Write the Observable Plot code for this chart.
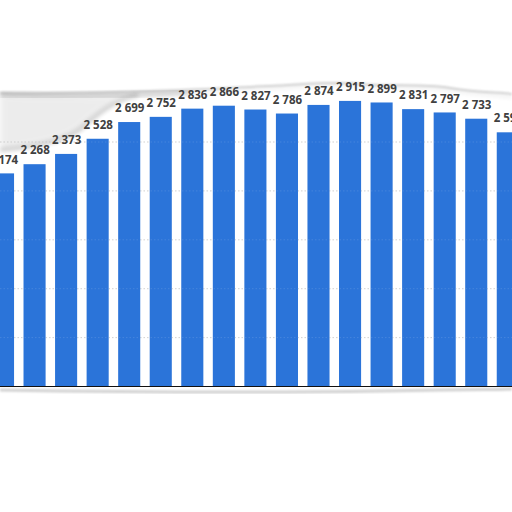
<!DOCTYPE html>
<html>
<head>
<meta charset="utf-8">
<script src="https://cdn.jsdelivr.net/npm/d3@7"></script>
<script src="https://cdn.jsdelivr.net/npm/@observablehq/plot@0.6"></script>
<style>
  html, body { margin: 0; padding: 0; background: #fff; overflow: hidden; width: 512px; height: 512px; }
  #chart { position: relative; width: 512px; height: 512px; }
  #chart > svg { position: absolute; left: 0; top: 0; }
  #tear { z-index: 0; pointer-events: none; }
  #chart > svg.plot-main { z-index: 1; }
</style>
</head>
<body>
<div id="chart">
  <!-- decorative torn-paper shading (not data) -->
  <svg id="tear" width="512" height="512" viewBox="0 0 512 512">
    <defs>
      <filter id="b3" x="-20%" y="-50%" width="140%" height="200%"><feGaussianBlur stdDeviation="3"/></filter>
      <filter id="b2" x="-20%" y="-50%" width="140%" height="200%"><feGaussianBlur stdDeviation="2"/></filter>
      <filter id="b1" x="-20%" y="-50%" width="140%" height="200%"><feGaussianBlur stdDeviation="1"/></filter>
    </defs>
    <path d="M0,94 C40,95 90,96 132,95 C115,100 100,112 85,125 C70,140 40,146 0,150 Z" fill="#000" opacity="0.07" filter="url(#b3)"/>
    <path d="M0,150 C40,146 70,140 85,125 C100,112 115,100 138,95" fill="none" stroke="#000" stroke-width="4" opacity="0.16" filter="url(#b2)"/>
    <path d="M0,95 C40,96 80,96 120,95 S 170,93 190,92" fill="none" stroke="#000" stroke-width="6" opacity="0.12" filter="url(#b2)"/>
    <path d="M0,93 C60,94 120,92 180,90 S 240,87 270,86 S 330,81 360,84 S 420,83 450,88 S 500,92 512,94" fill="none" stroke="#000" stroke-width="2" opacity="0.16" filter="url(#b1)"/>
    <path d="M0,95 C60,97 120,95 180,93 S 240,89 270,88 S 330,83 360,86 S 420,85 450,90 S 500,94 512,97" fill="none" stroke="#000" stroke-width="4" opacity="0.05" filter="url(#b2)"/>
    <path d="M0,390 C120,392 250,393 380,391 S 480,390 512,389" fill="none" stroke="#000" stroke-width="3" opacity="0.18" filter="url(#b1)"/>
  </svg>
</div>
<script>
// Visible bars (chart is cropped at both sides)
const categories = ["c01","c02","c03","c04","c05","c06","c07","c08","c09","c10","c11","c12","c13","c14","c15","c16","c17"];
const values = [2174, 2268, 2373, 2528, 2699, 2752, 2836, 2866, 2827, 2786, 2874, 2915, 2899, 2831, 2797, 2733, 2594];
const gridTicks = [500, 1000, 1500, 2000, 2500];

const data = categories.map((c, i) => ({cat: c, value: values[i]}));
const fmtSpace = v => String(v).replace(/\B(?=(\d{3})+(?!\d))/g, " ");

const plot = Plot.plot({
  width: 512,
  height: 512,
  margin: 0,
  className: "plot-main",
  style: {background: "transparent", fontFamily: "'Open Sans', Arial, sans-serif"},
  x: {domain: categories, range: [-17.5, 528.3], padding: 0.3, round: false, axis: null},
  y: {domain: [0, 3000], range: [386, 92.6], axis: null},
  marks: [
    Plot.ruleY(gridTicks, {stroke: "#bbb", strokeDasharray: "1.5,2", strokeOpacity: 0.7}),
    Plot.barY(data, {x: "cat", y: "value", fill: "#2b74d9"}),
    Plot.ruleY(gridTicks, {stroke: "#fff", strokeDasharray: "1.5,2", strokeOpacity: 0.12}),
    Plot.text(data, {x: "cat", y: "value", text: d => fmtSpace(d.value), dy: -14, fill: "#404040", fontSize: 11.5, fontWeight: 700}),
    Plot.ruleY([0], {stroke: "#111", strokeWidth: 1.2})
  ]
});
plot.classList.add("plot-main");
document.getElementById("chart").appendChild(plot);
</script>
</body>
</html>
